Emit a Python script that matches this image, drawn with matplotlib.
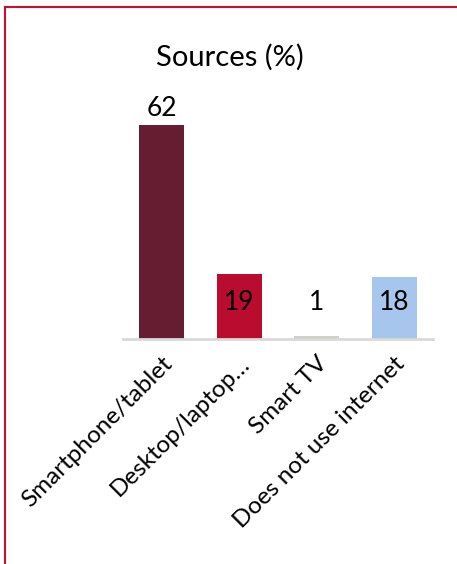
import matplotlib
matplotlib.use("Agg")
import matplotlib.pyplot as plt
from matplotlib.lines import Line2D

plt.rcParams['font.family'] = ['Lato', 'DejaVu Sans']

categories = ['Smartphone/tablet', 'Desktop/laptop\u2026', 'Smart TV', 'Does not use internet']
values = [62, 19, 1, 18]
colors = ['#661C31', '#BA0C2F', '#D0CFCA', '#A7C6ED']

W, H = 457, 564
fig = plt.figure(figsize=(W / 100, H / 100), dpi=100)
ax = fig.add_axes([123 / W, 1 - 339 / H, 310 / W, 224 / H])

x = list(range(len(values)))
ax.bar(x, values, width=0.58, color=colors, zorder=2)
ax.set_xlim(-0.5, 3.5)
ax.set_ylim(0, 65)

# value labels: tall bar above, short bars at a fixed inner height
for xi, v in zip(x, values):
    if v > 30:
        ax.text(xi, v + 1.2, str(v), ha='center', va='bottom', fontsize=19)
    else:
        ax.text(xi, 10.5, str(v), ha='center', va='center', fontsize=19)

for s in ['top', 'right', 'left']:
    ax.spines[s].set_visible(False)
ax.spines['bottom'].set_color('#D9D9D9')
ax.spines['bottom'].set_linewidth(2)
ax.set_yticks([])
ax.set_xticks(x)
ax.set_xticklabels(categories, rotation=45, ha='right', rotation_mode='anchor', fontsize=17.5)
ax.tick_params(axis='x', length=0, pad=10)

fig.text(230 / W, 1 - 57 / H, 'Sources (%)', ha='center', va='center', fontsize=21)

# frame lines on the left and top edges
fig.add_artist(Line2D([5 / W, 5 / W], [0, 1 - 7 / H], color='#C8102E', lw=1.5))
fig.add_artist(Line2D([5 / W, 1], [1 - 7 / H, 1 - 7 / H], color='#C8102E', lw=1.5))

fig.savefig('out.png', dpi=100)
